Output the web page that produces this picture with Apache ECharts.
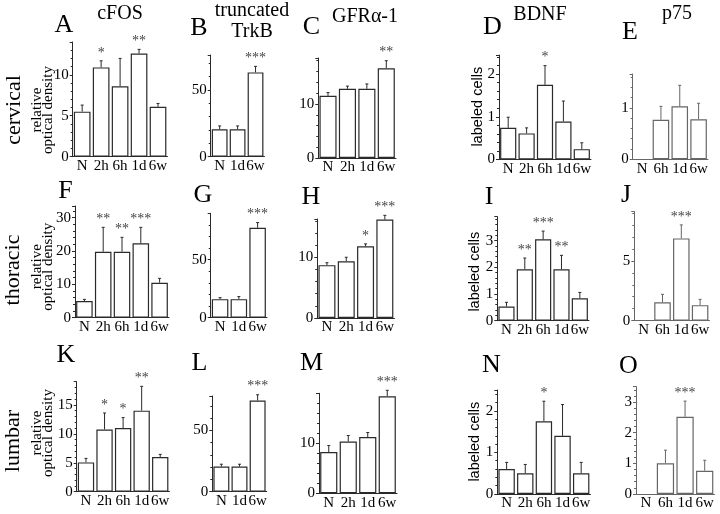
<!DOCTYPE html>
<html>
<head>
<meta charset="utf-8">
<script src="https://cdn.jsdelivr.net/npm/echarts@6/dist/echarts.min.js"></script>
<style>html,body{margin:0;padding:0;background:#fff}#c{width:720px;height:514px}</style>
</head>
<body>
<div id="c"></div>
<script>
// ---------- data ----------
const rowNames = ['cervical', 'thoracic', 'lumbar'];
const columnTitles = ['cFOS', 'truncated', 'GFRα-1', 'BDNF', 'p75'];
const columnSubtitle = 'TrkB';
const panelLetters = ['A','B','C','D','E','F','G','H','I','J','K','L','M','N','O'];
const odLabel = 'relative\noptical density';
const cellsLabel = 'labeled cells';

const catsCFOS = ['N', '2h', '6h', '1d', '6w'];
const catsTrkB = ['N', '1d', '6w'];
const catsGFR  = ['N', '2h', '1d', '6w'];
const catsBDNF = ['N', '2h', '6h', '1d', '6w'];
const catsP75  = ['N', '6h', '1d', '6w'];

// cervical
const valA = [5.5, 10.9, 8.6, 12.6, 6.1];   const errA = [6.3, 11.7, 12.0, 13.1, 6.5];  const starsA = ['', '*', '', '**', ''];
const valB = [20.5, 20.5, 63];              const errB = [23, 23, 67.5];                const starsB = ['', '', '***'];
const valC = [11.5, 12.8, 12.8, 16.6];      const errC = [12.1, 13.3, 13.7, 18.0];      const starsC = ['', '', '', '**'];
const valD = [0.74, 0.61, 1.75, 0.89, 0.24]; const errD = [0.99, 0.74, 2.2, 1.37, 0.39]; const starsD = ['', '', '*', '', ''];
const valE = [null, 0.77, 1.03, 0.78];      const errE = [null, 1.03, 1.44, 1.09];      const starsE = ['', '', '', ''];
// thoracic
const valF = [5.0, 19.8, 19.8, 22.3, 10.5]; const errF = [5.5, 27.1, 24.1, 27.1, 11.8]; const starsF = ['', '**', '**', '***', ''];
const valG = [16, 16, 77.5];                const errG = [17.3, 18.2, 82];              const starsG = ['', '', '***'];
const valH = [8.7, 9.35, 11.8, 16.2];       const errH = [9.1, 10.0, 12.2, 16.9];       const starsH = ['', '', '*', '***'];
const valI = [0.53, 1.93, 3.05, 1.93, 0.84]; const errI = [0.69, 2.35, 3.36, 2.45, 1.06]; const starsI = ['', '**', '***', '**', ''];
const valJ = [null, 1.53, 6.87, 1.3];       const errJ = [null, 2.2, 8.0, 1.78];        const starsJ = ['', '', '***', ''];
// lumbar
const valK = [5.06, 10.75, 11.0, 14.0, 6.0]; const errK = [5.75, 13.6, 12.8, 18.2, 6.45]; const starsK = ['', '*', '*', '**', ''];
const valL = [20.5, 20.5, 74.3];            const errL = [22.4, 22.4, 79];              const starsL = ['', '', '***'];
const valM = [8.2, 10.3, 11.2, 19.3];       const errM = [9.5, 11.5, 12.1, 20.5];       const starsM = ['', '', '', '***'];
const valN = [0.6, 0.5, 1.75, 1.4, 0.5];    const errN = [0.76, 0.71, 2.23, 2.15, 0.76]; const starsN = ['', '', '*', '', ''];
const valO = [null, 1.0, 2.52, 0.76];       const errO = [null, 1.43, 3.03, 1.1];       const starsO = ['', '', '***', ''];

// y-axis ranges and tick intervals per panel (A..O)
const yMaxes    = [14, 76, 18.5, 2.45, 1.66, 33.5, 90, 16.3, 3.9, 9.1, 19, 78, 19.9, 2.5, 3.5];
const yIntervals = [5, 50, 10, 1, 1, 10, 50, 10, 1, 5, 5, 50, 10, 1, 1];

// ---------- build ----------
const panelData = [
  [catsCFOS, valA, errA, starsA], [catsTrkB, valB, errB, starsB], [catsGFR, valC, errC, starsC], [catsBDNF, valD, errD, starsD], [catsP75, valE, errE, starsE],
  [catsCFOS, valF, errF, starsF], [catsTrkB, valG, errG, starsG], [catsGFR, valH, errH, starsH], [catsBDNF, valI, errI, starsI], [catsP75, valJ, errJ, starsJ],
  [catsCFOS, valK, errK, starsK], [catsTrkB, valL, errL, starsL], [catsGFR, valM, errM, starsM], [catsBDNF, valN, errN, starsN], [catsP75, valO, errO, starsO]
];

// layout: [leftX, topY, rightX, bottomY]
const rects = [
  [72.7, 42, 167.5, 156.7], [210.7, 55, 264.5, 156.7], [318.3, 58, 396, 158], [499, 55, 591, 159.4], [632.7, 74, 708, 159.3],
  [75, 206, 169, 317.7], [210.7, 213.3, 267, 317.7], [317.3, 219, 394.5, 318], [497.3, 216.7, 589, 320.7], [634.3, 211.7, 709.5, 320.7],
  [76.7, 381.7, 169.5, 491.7], [212.3, 396, 266.7, 491.7], [319, 393.3, 397, 493.3], [497.3, 390, 590.5, 494], [636, 386.7, 714.5, 494]
];

const SERIF = '"Liberation Serif", "DejaVu Serif", serif';
const SANS = '"Liberation Sans", Arial, sans-serif';

const grids = [], xAxes = [], yAxes = [], series = [];
panelData.forEach((p, i) => {
  const [cats, vals, errs, stars] = p;
  const r = rects[i];
  const col = i % 5;
  const lineColor = col === 4 ? '#666' : '#2a2a2a';
  grids.push({ left: r[0], top: r[1], width: r[2] - r[0], height: r[3] - r[1], containLabel: false });
  xAxes.push({
    type: 'category', gridIndex: i, data: cats, boundaryGap: true,
    axisLine: { lineStyle: { color: lineColor, width: 1 } },
    axisTick: { show: false },
    axisLabel: { color: '#000', fontFamily: SERIF, fontSize: 15, margin: 2, interval: 0 }
  });
  const iv = yIntervals[i];
  yAxes.push({
    type: 'value', gridIndex: i, min: 0, max: yMaxes[i], interval: iv,
    splitLine: { show: false },
    axisLine: { show: true, lineStyle: { color: lineColor, width: 1 } },
    axisTick: { show: true, inside: false, length: 3, lineStyle: { color: lineColor } },
    minorTick: { show: true, splitNumber: 5, length: 2, lineStyle: { color: lineColor } },
    axisLabel: {
      color: '#000', fontFamily: SERIF, fontSize: 15, margin: 4,
      formatter: v => (Math.abs(v / iv - Math.round(v / iv)) < 1e-6 ? String(Math.round(v)) : '')
    }
  });
  series.push({
    type: 'bar', xAxisIndex: i, yAxisIndex: i, data: vals, barCategoryGap: '12%',
    itemStyle: { color: '#fff', borderColor: lineColor, borderWidth: 1.2 },
    silent: true, animation: false
  });
  series.push({
    type: 'custom', xAxisIndex: i, yAxisIndex: i, animation: false, silent: true, clip: false,
    data: cats.map((c, k) => [k, vals[k], errs[k]]),
    renderItem: (params, api) => {
      const k = params.dataIndex;
      if (vals[k] == null) return null;
      const p0 = api.coord([k, vals[k]]);
      const p1 = api.coord([k, errs[k]]);
      const children = [
        { type: 'line', shape: { x1: p0[0], y1: p0[1], x2: p1[0], y2: p1[1] }, style: { stroke: lineColor, lineWidth: 1 } },
        { type: 'line', shape: { x1: p1[0] - 1.5, y1: p1[1], x2: p1[0] + 1.5, y2: p1[1] }, style: { stroke: lineColor, lineWidth: 1 } }
      ];
      if (stars[k]) {
        children.push({ type: 'text', style: {
          text: stars[k], x: p1[0], y: p1[1] - 8, font: '14px ' + SERIF, fill: '#444',
          align: 'center', verticalAlign: 'middle', textAlign: 'center', textVerticalAlign: 'middle'
        } });
      }
      return { type: 'group', children };
    }
  });
});

// ---------- text decorations ----------
const graphics = [];
function txt(text, x, y, font, opts) {
  opts = opts || {};
  graphics.push({
    type: 'text', x, y, rotation: opts.rot || 0, silent: true,
    style: { text, font, fill: opts.fill || '#000', align: 'center', verticalAlign: 'middle',
             textAlign: 'center', textVerticalAlign: 'middle', lineHeight: opts.lh }
  });
}
const titlePos = [[120, 14], [252, 11], [365, 16.5], [540, 15], [677, 14]];
columnTitles.forEach((t, c) => txt(t, titlePos[c][0], titlePos[c][1], '20px ' + SERIF));
txt(columnSubtitle, 252, 32, '20px ' + SERIF);

const letterPos = [[64, 25], [199, 28], [311.5, 27], [492.5, 27], [630, 32],
                   [65.5, 190.7], [203, 195], [311, 196.7], [489, 196.7], [626, 195],
                   [66, 355], [199.5, 363], [311.5, 363], [491.5, 365], [628.5, 366]];
panelLetters.forEach((l, i) => txt(l, letterPos[i][0], letterPos[i][1], '26px ' + SERIF));

const rowPos = [[14, 110], [13.5, 270], [13.5, 441]];
rowNames.forEach((n, r) => txt(n, rowPos[r][0], rowPos[r][1], '22px ' + SERIF, { rot: Math.PI / 2 }));

const odPos = [[42.2, 110], [42.5, 266.7], [43, 433]];
odPos.forEach(p => txt(odLabel, p[0], p[1], '15px ' + SERIF, { rot: Math.PI / 2, lh: 11 }));

const cellsPos = [[477.7, 106.7], [475, 271.7], [475, 441.7]];
cellsPos.forEach(p => txt(cellsLabel, p[0], p[1], '14.5px ' + SANS, { rot: Math.PI / 2 }));

const chart = echarts.init(document.getElementById('c'), null, { renderer: 'canvas' });
chart.setOption({
  backgroundColor: '#fff',
  animation: false,
  grid: grids, xAxis: xAxes, yAxis: yAxes, series: series,
  graphic: graphics
});
</script>
</body>
</html>
